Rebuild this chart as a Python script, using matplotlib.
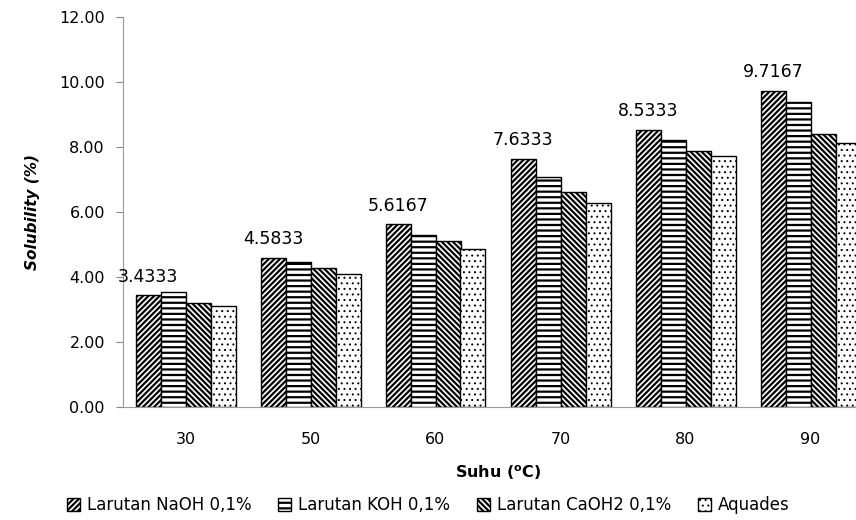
import numpy as np
import matplotlib
matplotlib.use('Agg')
from matplotlib import pyplot as plt

suhu = ['30', '50', '60', '70', '80', '90']
naoh = [3.4333, 4.5833, 5.6167, 7.6333, 8.5333, 9.7167]
koh = [3.53, 4.45, 5.28, 7.09, 8.22, 9.38]
caoh2 = [3.19, 4.27, 5.10, 6.61, 7.87, 8.39]
aquades = [3.10, 4.09, 4.85, 6.27, 7.71, 8.11]

series_names = ['Larutan NaOH 0,1%', 'Larutan KOH 0,1%', 'Larutan CaOH2 0,1%', 'Aquades']
hatches = ['//////', '---', '\\\\\\\\\\\\', '...']
hatch_lw = [1.6, 1.6, 1.6, 0.7]

plt.rcParams['hatch.linewidth'] = 1.6
plt.rcParams['font.family'] = ['DejaVu Sans']

fig = plt.figure(figsize=(8.56, 5.2), dpi=100)
# axes runs past the right edge, like the cropped original
ax = fig.add_axes([123 / 856, 1 - 407 / 520, 750 / 856, 390 / 520])

x = np.arange(len(suhu))
w = 0.2
for i, (vals, h) in enumerate(zip([naoh, koh, caoh2, aquades], hatches)):
    bars = ax.bar(x + (i - 1.5) * w, vals, w, color='white', edgecolor='black',
                  hatch=h, linewidth=1.0, label=series_names[i])
    for b in bars:
        if hasattr(b, 'set_hatch_linewidth'):
            b.set_hatch_linewidth(hatch_lw[i])

for xi, v in zip(x, naoh):
    ax.text(xi - 1.5 * w, v + 0.3, '%.4f' % v, ha='center', va='bottom', fontsize=12.5)

ax.set_xlim(-0.5, len(suhu) - 0.5)
ax.set_ylim(0, 12)
ax.set_yticks(np.arange(0, 12.1, 2))
ax.set_yticklabels(['%.2f' % t for t in np.arange(0, 12.1, 2)], fontsize=11.5)
ax.set_xticks(x)
ax.set_xticklabels(suhu, fontsize=11.5)
ax.tick_params(axis='x', length=0, pad=18)
ax.tick_params(axis='y', length=5, color='#888888', direction='out', pad=8)

for s in ['top', 'right']:
    ax.spines[s].set_visible(False)
ax.spines['left'].set_color('#999999')
ax.spines['bottom'].set_color('#999999')

ax.set_ylabel('Solubility (%)', fontsize=11, fontweight='bold', style='italic', labelpad=14)
ax.set_xlabel(r'Suhu ($^{\mathbf{o}}$C)', fontsize=11.5, fontweight='bold', labelpad=12)

leg = fig.legend(loc='lower center', bbox_to_anchor=(0.5, -0.018), ncol=4, frameon=False,
                 fontsize=12, handlelength=0.8, handleheight=0.8, handletextpad=0.4,
                 columnspacing=1.6)
for i, p in enumerate(leg.get_patches()):
    if hasattr(p, 'set_hatch_linewidth'):
        p.set_hatch_linewidth(hatch_lw[i])

fig.savefig('out.png', dpi=100)
